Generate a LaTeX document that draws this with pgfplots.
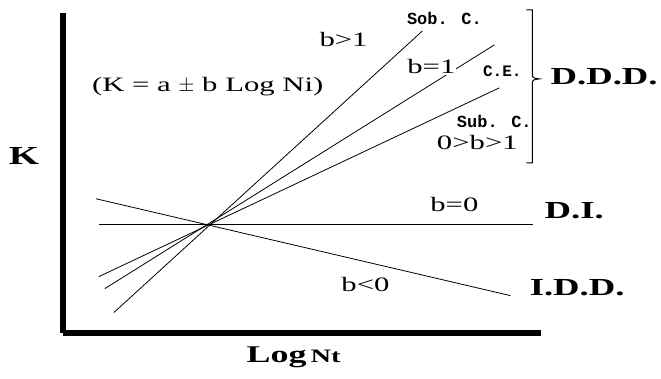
\documentclass[border=0pt]{standalone}
\usepackage{fontspec}
\setmainfont{Liberation Serif}[FakeStretch=1.5]
\newfontfamily\monof{Liberation Mono}
\usepackage{pgfplots}
\pgfplotsset{compat=1.18}

\begin{document}
\begin{tikzpicture}
\begin{axis}[
  x=1pt, y=1pt,
  xmin=63, xmax=542,
  ymin=45.5, ymax=366,
  axis lines=left,
  axis line style={line width=5.5pt, -},
  xtick=\empty, ytick=\empty,
  clip=false,
]
% invisible frame of the whole picture
\path (axis cs:0,0) rectangle (axis cs:661,379);

\addplot[black, line width=0.8pt, no markers] coordinates {(114,66) (423,348)};   % b>1, Sob. C.
\addplot[black, line width=0.8pt, no markers] coordinates {(105,90) (495,334)};   % b=1, C.E.
\addplot[black, line width=0.8pt, no markers] coordinates {(99,102) (500,291)};   % 0>b>1, Sub. C.
\addplot[black, line width=0.8pt, no markers] coordinates {(99,154) (534,154)};   % b=0
\addplot[black, line width=0.8pt, no markers] coordinates {(96,180) (511,83)};    % b<0

% brace
\draw[line width=1pt] (axis cs:527,369) -- (axis cs:533,369) -- (axis cs:533,306)
  .. controls (axis cs:533,301) .. (axis cs:540,300)
  .. controls (axis cs:533,299) .. (axis cs:533,294)
  -- (axis cs:533,216) -- (axis cs:527,216);

\node[font=\bfseries\fontsize{26}{26}\selectfont] at (axis cs:24,223) {K};
\node[font=\fontsize{24}{24}\selectfont] at (axis cs:294,21) {\textbf{Log}\,{\bfseries\fontsize{19}{19}\selectfont Nt}};
\node[font=\fontsize{20.5}{20.5}\selectfont] at (axis cs:208,292) {(K = a $\pm$ b Log Ni)};
\node[font=\fontsize{20.5}{20.5}\selectfont] at (axis cs:344,339) {b>1};
\node[font=\monof\bfseries\fontsize{17}{17}\selectfont] at (axis cs:445,361) {Sob. C.};
\node[font=\fontsize{20.5}{20.5}\selectfont, fill=white, inner sep=1pt] at (axis cs:432,312) {b=1};
\node[font=\monof\bfseries\fontsize{16}{16}\selectfont] at (axis cs:503,308) {C.E.};
\node[font=\monof\bfseries\fontsize{17}{17}\selectfont] at (axis cs:495,257) {Sub. C.};
\node[font=\fontsize{20.5}{20.5}\selectfont] at (axis cs:478,236) {0>b>1};
\node[font=\bfseries\fontsize{24.5}{24.5}\selectfont] at (axis cs:605,302) {D.D.D.};
\node[font=\fontsize{20.5}{20.5}\selectfont] at (axis cs:455,174) {b=0};
\node[font=\bfseries\fontsize{24.5}{24.5}\selectfont] at (axis cs:575,168) {D.I.};
\node[font=\bfseries\fontsize{24.5}{24.5}\selectfont] at (axis cs:578,91) {I.D.D.};
\node[font=\fontsize{20.5}{20.5}\selectfont] at (axis cs:366,94) {b<0};
\end{axis}
\end{tikzpicture}
\end{document}
